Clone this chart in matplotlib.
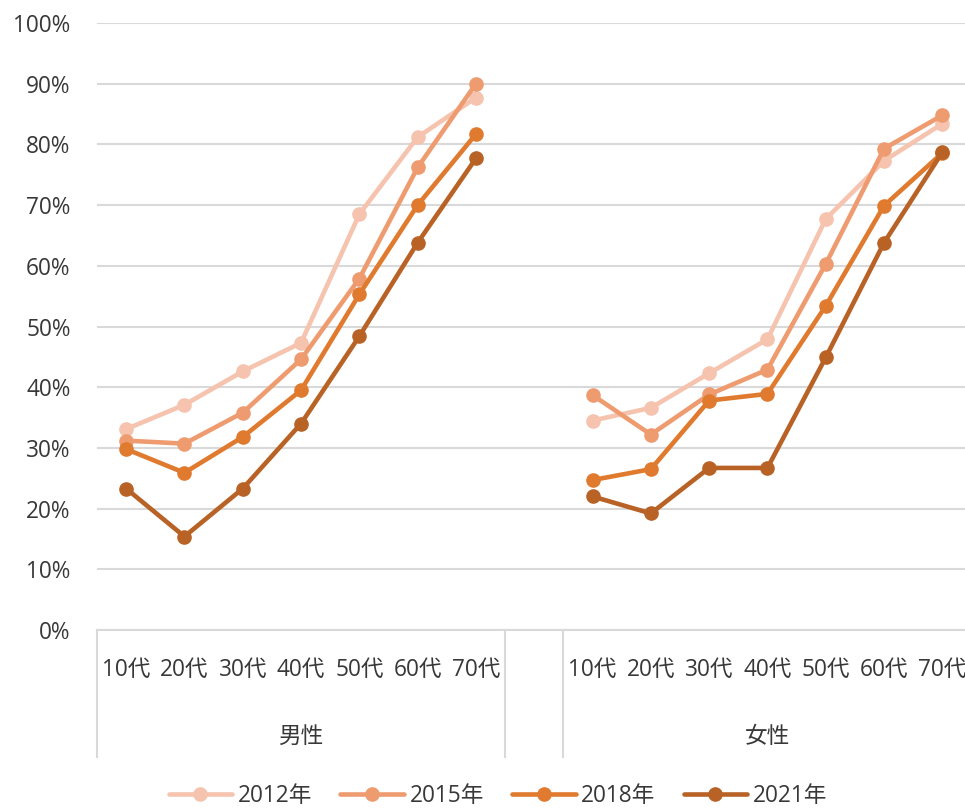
import numpy as np
import matplotlib.pyplot as plt
from matplotlib.transforms import blended_transform_factory

plt.rcParams['font.family'] = ['Open Sans', 'Noto Sans CJK JP', 'DejaVu Sans']

ages = ['10代', '20代', '30代', '40代', '50代', '60代', '70代']
groups = ['男性', '女性']
years = ['2012年', '2015年', '2018年', '2021年']
colors = ['#F5C3AE', '#EF9B70', '#E07A2F', '#B86226']

# men, then women (percent)
male_2012 = [33.1, 37.1, 42.6, 47.3, 68.5, 81.2, 87.7]
male_2015 = [31.2, 30.7, 35.8, 44.6, 57.9, 76.2, 90.0]
male_2018 = [29.8, 25.9, 31.8, 39.5, 55.3, 70.0, 81.7]
male_2021 = [23.3, 15.4, 23.3, 34.0, 48.4, 63.8, 77.7]

female_2012 = [34.5, 36.6, 42.3, 47.9, 67.7, 77.3, 83.4]
female_2015 = [38.7, 32.2, 38.8, 42.9, 60.3, 79.3, 84.8]
female_2018 = [24.7, 26.5, 37.8, 38.9, 53.4, 69.9, 78.6]
female_2021 = [22.0, 19.2, 26.7, 26.7, 44.9, 63.8, 78.7]

male = [male_2012, male_2015, male_2018, male_2021]
female = [female_2012, female_2015, female_2018, female_2021]

FS = 16.3
TXT = '#383838'

fig = plt.figure(figsize=(9.65, 8.08), dpi=100)
ax = fig.add_axes([97/965, 1-630/808, 868/965, 607/808])

xm = np.arange(7)
xf = np.arange(8, 15)
for i in range(4):
  ax.plot(xm, np.array(male[i]) / 100, color=colors[i], lw=3.3, marker='o', ms=9.5,
          label=years[i], solid_capstyle='round')
  ax.plot(xf, np.array(female[i]) / 100, color=colors[i], lw=3.3, marker='o', ms=9.5,
          solid_capstyle='round')

ax.set_xlim(-0.5, -0.5 + 868/58.3)
ax.set_ylim(0, 1)
ax.set_yticks(np.arange(0, 1.01, 0.1))
ax.set_yticklabels([f'{int(round(v*100))}%' for v in np.arange(0, 1.01, 0.1)], fontsize=FS, color=TXT)
ax.tick_params(axis='y', length=0, pad=19)
ax.set_xticks([])
ax.grid(axis='y', color='#D9D9D9', lw=1.5)
ax.set_axisbelow(True)
for s in ['top', 'right', 'left']:
  ax.spines[s].set_visible(False)
ax.spines['bottom'].set_color('#D9D9D9')
ax.spines['bottom'].set_linewidth(1.5)

tr = blended_transform_factory(ax.transData, ax.transAxes)
for x in [-0.5, 6.5, 7.5, 14.5]:
  ax.plot([x, x], [0, -127/607], transform=tr, color='#D9D9D9', lw=1.5, clip_on=False)

for j, base in enumerate([0, 8]):
  for k, a in enumerate(ages):
    ax.text(base + k, -40/607, a, transform=tr, ha='center', va='center',
            fontsize=FS, color=TXT)
  ax.text(base + 3, -107/607, groups[j], transform=tr, ha='center', va='center',
          fontsize=FS, color=TXT)

fig.legend(loc='center', bbox_to_anchor=(0.516, 0.015), ncol=4, frameon=False,
           fontsize=FS, handlelength=2.8, columnspacing=1.25, handletextpad=0.25,
           labelcolor=TXT)

fig.savefig('out.png', dpi=100)
